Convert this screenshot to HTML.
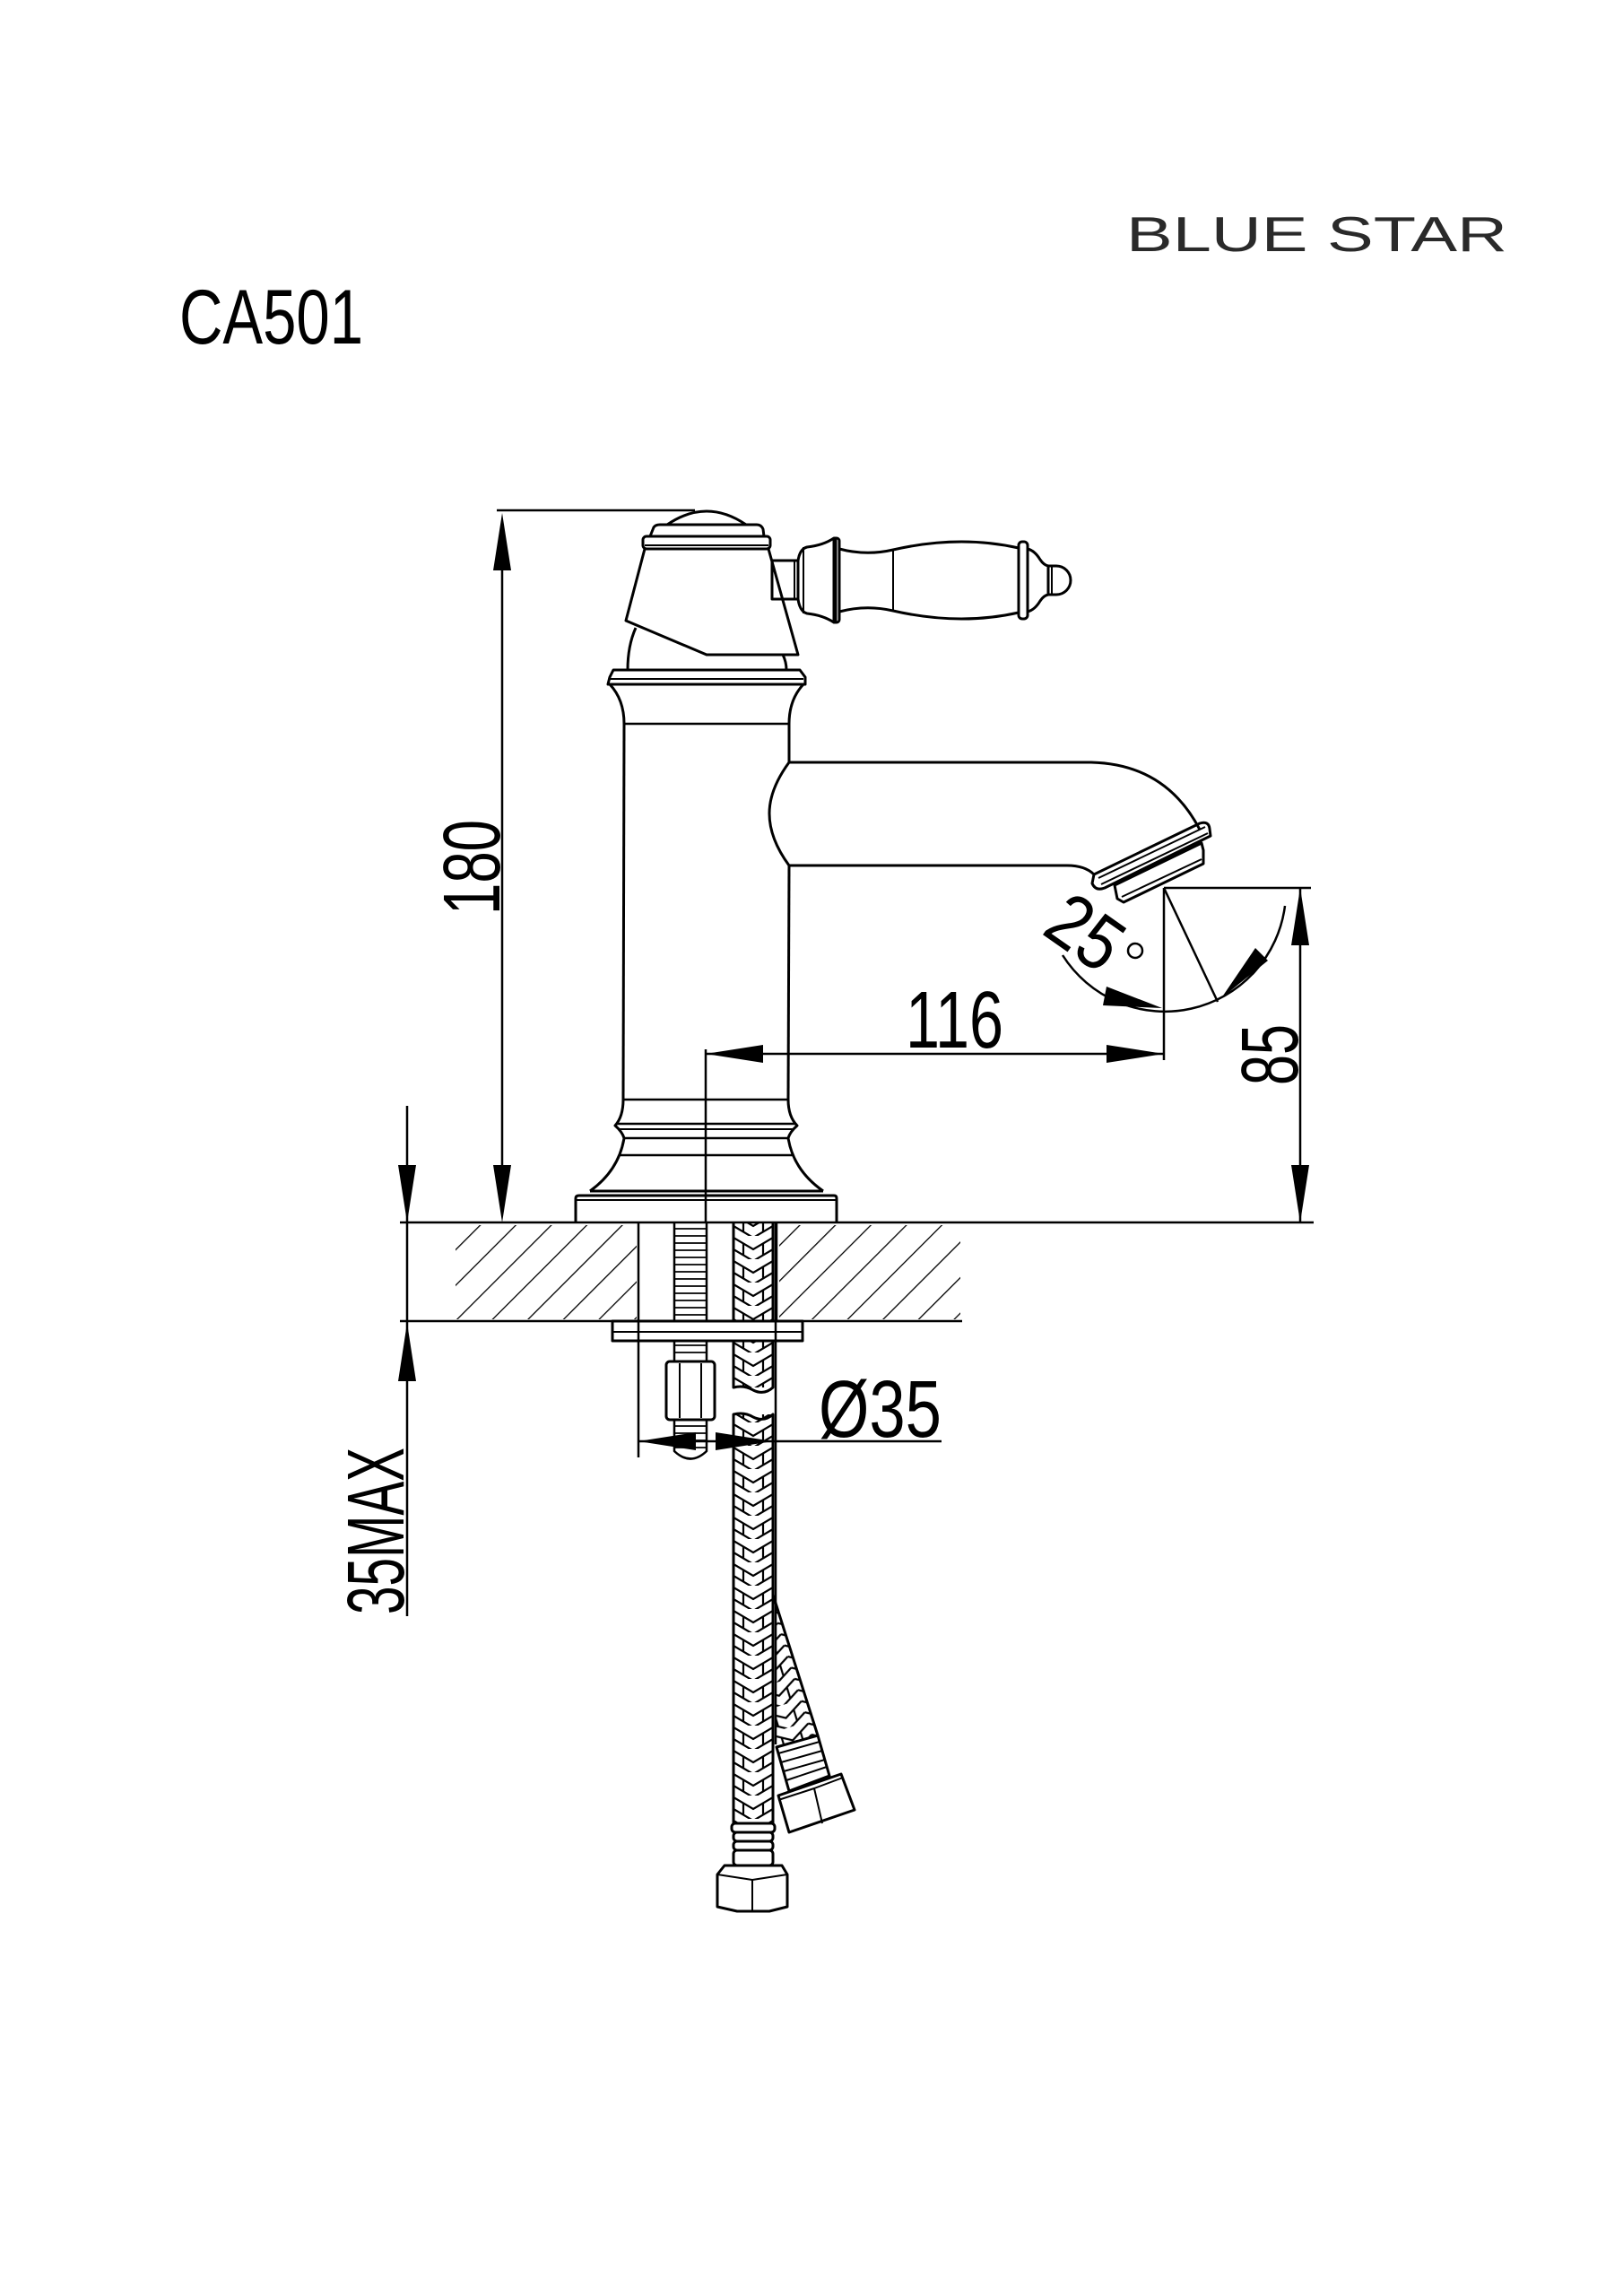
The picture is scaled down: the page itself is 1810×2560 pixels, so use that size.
<!DOCTYPE html>
<html><head><meta charset="utf-8"><style>html,body{margin:0;padding:0;background:#fff}svg{display:block}</style></head>
<body>
<svg width="1810" height="2560" viewBox="0 0 1810 2560" xmlns="http://www.w3.org/2000/svg" font-family="Liberation Sans, Arial, sans-serif">
<defs>
<pattern id="hatch" patternUnits="userSpaceOnUse" width="28" height="28" patternTransform="rotate(45)">
<line x1="0" y1="0" x2="0" y2="28" stroke="#000" stroke-width="2.6"/>
</pattern>
<pattern id="braid" patternUnits="userSpaceOnUse" width="44" height="26" x="818" y="0">
<path d="M0 2 L22 15 L44 2 M0 15 L22 28 L44 15 M11 8 L11 21 M33 8 L33 21" stroke="#000" stroke-width="2.2" fill="none"/>
</pattern>
<pattern id="braid2" patternUnits="userSpaceOnUse" width="44" height="26" patternTransform="translate(866 0) rotate(-17)">
<path d="M0 2 L22 15 L44 2 M0 15 L22 28 L44 15 M11 8 L11 21 M33 8 L33 21" stroke="#000" stroke-width="2.2" fill="none"/>
</pattern>
</defs>

<!-- titles -->
<text x="1256" y="280" font-size="55" fill="#2a2a2a" textLength="425" lengthAdjust="spacingAndGlyphs">BLUE STAR</text>
<text x="200" y="383" font-size="86" fill="#000" textLength="205" lengthAdjust="spacingAndGlyphs">CA501</text>

<g fill="none" stroke="#000" stroke-width="3" stroke-linejoin="round">
<line x1="554" y1="569" x2="775" y2="569" stroke-width="2.5"/>
<path d="M744 585 Q788 555 832 585"/>
<path d="M725 598 L729 588 Q731 585 736 585 L844 585 Q849 585 851 590 L852 598"/>
<rect x="717" y="598" width="142" height="14" rx="4"/>
<line x1="719" y1="608" x2="857" y2="608" stroke-width="2"/>
<path d="M719 612 L857 612 L890 730 L788 730 L698 692 Z"/>
<path d="M709 700 Q700 720 700 747"/>
<path d="M873 730 Q877 738 877 747"/>
<rect x="861" y="625" width="29" height="43"/>
<line x1="886" y1="626" x2="886" y2="667" stroke-width="2"/>
<path d="M890 625 Q892 612 900 610 Q918 608 930 600 L932 600 L932 694 L930 694 Q918 686 900 684 Q892 682 890 668 Z"/>
<line x1="896" y1="610" x2="896" y2="684" stroke-width="2"/>
<rect x="930" y="600" width="6" height="94" rx="3"/>
<path d="M936 612 Q966 620 996 613 Q1070 596 1136 611 L1136 683 Q1070 698 996 681 Q966 674 936 682 Z"/>
<line x1="996" y1="613" x2="996" y2="681" stroke-width="2"/>
<rect x="1136" y="604" width="10" height="86" rx="4"/>
<path d="M1146 612 Q1154 614 1160 624 Q1164 630 1169 631 L1169 663 Q1164 664 1160 670 Q1154 680 1146 682 Z"/>
<path d="M1169 631 L1178 631 A16 16 0 0 1 1178 663 L1169 663 Z"/>
<line x1="1173" y1="631" x2="1173" y2="663" stroke-width="2"/>

<path d="M680 755 L684 747 L892 747 L898 755 L898 763 L678 763 Z"/>
<line x1="680" y1="757" x2="896" y2="757" stroke-width="2"/>
<path d="M680 763 Q696 780 696 807"/>
<path d="M896 763 Q880 780 880 807"/>
<line x1="696" y1="807" x2="880" y2="807" stroke-width="2.5"/>
<line x1="696" y1="807" x2="695" y2="1226"/>
<line x1="880" y1="807" x2="880" y2="850"/>
<line x1="880" y1="965" x2="879" y2="1226"/>
<line x1="695" y1="1226" x2="879" y2="1226" stroke-width="2.5"/>
<path d="M695 1226 Q695 1245 686 1255 Q694 1262 696 1269"/>
<path d="M879 1226 Q879 1245 889 1255 Q881 1262 879 1269"/>
<line x1="688" y1="1253" x2="887" y2="1253" stroke-width="2.5"/>
<line x1="689" y1="1259" x2="886" y2="1259" stroke-width="2"/>
<line x1="696" y1="1269" x2="879" y2="1269" stroke-width="2.5"/>
<line x1="690" y1="1288" x2="885" y2="1288" stroke-width="2.5"/>
<path d="M696 1269 Q690 1305 658 1328"/>
<path d="M879 1269 Q885 1305 918 1328"/>
<line x1="658" y1="1328" x2="918" y2="1328" stroke-width="3"/>
<path d="M642 1363 L642 1336 Q642 1333 646 1333 L930 1333 Q933 1333 933 1336 L933 1363"/>
<line x1="642" y1="1338" x2="933" y2="1338" stroke-width="2"/>

<path d="M880 850 L1217 850 Q1300 852 1338 925"/>
<path d="M880 850 Q858 880 858 907 Q858 935 880 965 L1190 965 Q1210 965 1220 975"/>
<path d="M1220 975 L1338 918 Q1348 915 1349 924 L1350 932 L1232 990 Q1222 994 1218 985 Z"/>
<line x1="1225" y1="979" x2="1344" y2="922" stroke-width="2"/>
<line x1="1228" y1="986" x2="1347" y2="929" stroke-width="2"/>
<path d="M1243 987 L1340 940 L1342 948 L1342 963 L1253 1006 L1246 1002 Z"/>
<line x1="1251" y1="1000" x2="1340" y2="958" stroke-width="2"/>

<line x1="560" y1="635" x2="560" y2="1300" stroke-width="2.5"/>
<line x1="446" y1="1363" x2="1465" y2="1363" stroke-width="2.5"/>
<line x1="446" y1="1473" x2="1073" y2="1473" stroke-width="2.5"/>
<line x1="712" y1="1363" x2="712" y2="1473" stroke-width="2.5"/>
<line x1="866" y1="1363" x2="866" y2="1473" stroke-width="2.5"/>
</g>

<rect x="508" y="1366" width="202" height="105" fill="url(#hatch)"/>
<rect x="869" y="1366" width="202" height="105" fill="url(#hatch)"/>

<g>
<rect x="818" y="1363" width="44" height="110" fill="url(#braid)"/>
<rect x="818" y="1495" width="44" height="52" fill="url(#braid)"/>
<rect x="818" y="1577" width="44" height="456" fill="url(#braid)"/>
<path d="M864 1780 L912 1935 L866 1948 L864 1780 Z" fill="url(#braid2)"/>
</g>
<g fill="none" stroke="#000" stroke-width="3" stroke-linejoin="round">
<line x1="818" y1="1363" x2="818" y2="1473"/>
<line x1="862" y1="1363" x2="862" y2="1473"/>
<path d="M818 1495 L818 1547 Q830 1544 840 1550 Q852 1556 862 1547 L862 1495"/>
<path d="M818 2033 L818 1577 Q830 1574 840 1580 Q852 1586 862 1577 L862 2033"/>
<line x1="865" y1="1363" x2="865" y2="1945" stroke-width="2.5"/>
<path d="M862 1778 L912 1935"/>
<rect x="683" y="1473" width="212" height="22" fill="#fff"/>
<line x1="683" y1="1485" x2="895" y2="1485" stroke-width="2"/>
<line x1="712" y1="1473" x2="712" y2="1625" stroke-width="2.5"/>
<line x1="865" y1="1473" x2="865" y2="1495" stroke-width="2.5"/>
<line x1="752" y1="1363" x2="752" y2="1473" stroke-width="2.5"/>
<line x1="788" y1="1363" x2="788" y2="1473" stroke-width="2.5"/>
<path d="M752 1495 L752 1518 M788 1495 L788 1518 M752 1583 L752 1618 Q770 1635 788 1618 L788 1583" stroke-width="2.5"/>
</g>
<g stroke="#000" stroke-width="1.8">
<path d="M753 1370 h34 M753 1378 h34 M753 1386 h34 M753 1394 h34 M753 1402 h34 M753 1410 h34 M753 1418 h34 M753 1426 h34 M753 1434 h34 M753 1442 h34 M753 1450 h34 M753 1458 h34 M753 1466 h34 M753 1500 h34 M753 1508 h34 M753 1590 h34 M753 1598 h34 M753 1606 h34 M753 1614 h34"/>
</g>
<g fill="none" stroke="#000" stroke-width="3" stroke-linejoin="round">
<rect x="743" y="1518" width="54" height="65" rx="4" fill="#fff"/>
<line x1="758" y1="1520" x2="758" y2="1581" stroke-width="2"/>
<line x1="782" y1="1520" x2="782" y2="1581" stroke-width="2"/>
<rect x="816" y="2033" width="48" height="10" rx="4" fill="#fff"/>
<rect x="818" y="2043" width="44" height="10" rx="4" fill="#fff"/>
<rect x="818" y="2053" width="44" height="10" rx="4" fill="#fff"/>
<rect x="818" y="2063" width="44" height="17" rx="4" fill="#fff"/>
<path d="M800 2090 L808 2080 L872 2080 L878 2090 L878 2126 L858 2131 L822 2131 L800 2126 Z" fill="#fff"/>
<path d="M800 2090 L839 2096 L878 2090 M839 2096 L839 2131" stroke-width="2"/>
<path d="M866 1948 L912 1935 L925 1980 L880 1997 Z" fill="#fff"/>
<path d="M868 1955 L914 1942 M871 1965 L917 1952 M874 1975 L920 1962 M877 1985 L922 1970" stroke-width="2"/>
<path d="M868 2002 L938 1978 L953 2018 L880 2043 Z" fill="#fff"/>
<path d="M868 2007 L908 1994 L940 1982 M908 1994 L917 2033" stroke-width="2"/>

<line x1="787" y1="1170" x2="787" y2="1363" stroke-width="2.5"/>
<line x1="787" y1="1175" x2="1298" y2="1175" stroke-width="2.5"/>
<line x1="1298" y1="990" x2="1298" y2="1182" stroke-width="2.5"/>
<line x1="1298" y1="990" x2="1462" y2="990" stroke-width="2.5"/>
<line x1="1450" y1="990" x2="1450" y2="1363" stroke-width="2.5"/>
<line x1="1298" y1="990" x2="1358" y2="1117" stroke-width="2.5"/>
<path d="M1185 1065 A135 135 0 0 0 1433 1010" stroke-width="2.5"/>
<line x1="454" y1="1233" x2="454" y2="1363" stroke-width="2.5"/>
<line x1="454" y1="1363" x2="454" y2="1802" stroke-width="2.5"/>
<line x1="712" y1="1607" x2="1050" y2="1607" stroke-width="2.5"/>
</g>

<g fill="#000">
<path d="M560 572 L550 636 L570 636 Z"/>
<path d="M560 1363 L550 1299 L570 1299 Z"/>
<path d="M454 1363 L444 1299 L464 1299 Z"/>
<path d="M454 1475 L444 1540 L464 1540 Z"/>
<path d="M1450 990 L1440 1054 L1460 1054 Z"/>
<path d="M1450 1363 L1440 1299 L1460 1299 Z"/>
<path d="M787 1175 L851 1165 L851 1185 Z"/>
<path d="M1298 1175 L1234 1165 L1234 1185 Z"/>
<path d="M712 1607 L776 1597 L776 1617 Z"/>
<path d="M862 1607 L798 1597 L798 1617 Z"/>
<path d="M1296 1124 L1234 1100 L1230 1121 Z"/>
<path d="M1362 1113 L1414 1071 L1400 1057 Z"/>
</g>

<g font-size="90" fill="#000">
<text x="1010" y="1168" textLength="109" lengthAdjust="spacingAndGlyphs">116</text>
<text transform="translate(557 1020) rotate(-90)" textLength="106" lengthAdjust="spacingAndGlyphs">180</text>
<text transform="translate(1447 1210) rotate(-90)" textLength="68" lengthAdjust="spacingAndGlyphs">85</text>
<text transform="translate(450 1800) rotate(-90)" textLength="186" lengthAdjust="spacingAndGlyphs">35MAX</text>
<text x="913" y="1602" textLength="137" lengthAdjust="spacingAndGlyphs">Ø35</text>
<text transform="translate(1160 1040) rotate(35)" font-size="86" textLength="82" lengthAdjust="spacingAndGlyphs">25</text>
</g>
<circle cx="1266" cy="1060" r="8" fill="none" stroke="#000" stroke-width="2.5"/>
</svg>
</body></html>
